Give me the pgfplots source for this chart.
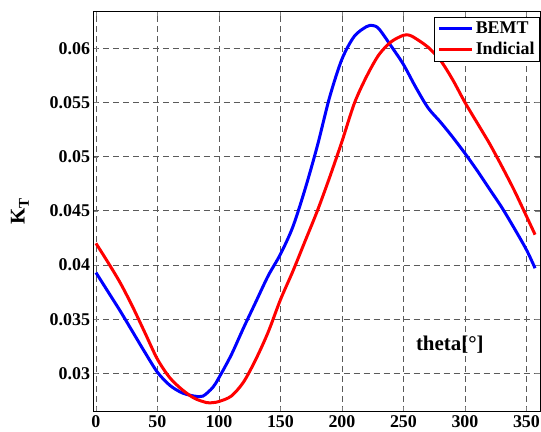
\documentclass[border=0pt]{standalone}
\usepackage{fontspec}
\setmainfont{Liberation Serif}
\usepackage{pgfplots}
\pgfplotsset{compat=1.18}

\definecolor{gridgray}{RGB}{90,90,90}

\begin{document}
\begin{tikzpicture}
\begin{axis}[
  scale only axis,
  width=446.5bp, height=400.7bp,
  xmin=-2, xmax=361,
  ymin=0.02646, ymax=0.06344,
  xtick={0,50,...,350},
  ytick={0.03,0.035,0.04,0.045,0.05,0.055,0.06},
  yticklabels={0.03,0.035,0.04,0.045,0.05,0.055,0.06},
  scaled y ticks=false,
  /pgf/number format/assume math mode=true,
  tick label style={font=\bfseries\fontsize{18}{20}\selectfont},
  tick align=inside,
  major tick length=5bp,
  xtick pos=both, ytick pos=both,
  xticklabel pos=bottom, yticklabel pos=left,
  grid=major,
  major grid style={gridgray, line width=0.9bp, dash pattern=on 6bp off 4bp},
  axis line style={black, line width=0.9bp},
  xlabel={theta[°]},
  xlabel style={font=\bfseries\fontsize{21}{24}\selectfont,
    at={(axis description cs:0.798,0.1665)}, anchor=center},
  ylabel={K\raisebox{-0.45ex}{\fontsize{15}{16}\selectfont T}},
  ylabel style={font=\bfseries\fontsize{21}{24}\selectfont,
    at={(axis description cs:-0.165,0.5)}, anchor=center},
  legend style={at={(axis description cs:1,0.986)}, anchor=north east,
    draw=black, line width=0.9bp, fill=white,
    font=\bfseries\fontsize{18}{20}\selectfont,
    inner xsep=3bp, inner ysep=3bp, row sep=3bp},
  legend cell align=left,
  legend image code/.code={\draw[#1] (0bp,0bp) -- (33bp,0bp);},
]
% BEMT thrust coefficient over one revolution
\addplot[blue, line width=3bp, smooth, tension=0.5] coordinates {
 (0,0.0393) (10,0.0375) (20,0.0357) (30,0.0338) (40,0.0319) (50,0.0301)
 (60,0.0289) (70,0.0282) (80,0.0279) (87,0.0279) (95,0.0287) (100,0.0296)
 (110,0.0317) (120,0.0342) (130,0.0366) (140,0.0390) (150,0.0410)
 (160,0.0435) (170,0.0470) (180,0.0510) (190,0.0555) (200,0.0590)
 (210,0.0611) (220,0.0620) (225,0.0621) (230,0.0618) (240,0.0602)
 (250,0.0585) (260,0.0564) (270,0.0545) (280,0.0532) (290,0.0518)
 (300,0.0503) (310,0.0487) (320,0.0470) (330,0.0453) (340,0.0434)
 (350,0.0414) (357,0.0397)
};
\addlegendentry{BEMT}
% Indicial (unsteady) thrust coefficient
\addplot[red, line width=3bp, smooth, tension=0.5] coordinates {
 (0,0.0420) (10,0.0402) (20,0.0383) (30,0.0361) (40,0.0337) (50,0.0313)
 (60,0.0296) (70,0.0285) (80,0.0277) (90,0.0273) (95,0.0273) (100,0.0274)
 (110,0.0279) (120,0.0292) (130,0.0313) (140,0.0338) (150,0.0368)
 (160,0.0394) (170,0.0422) (180,0.0450) (190,0.0481) (200,0.0514)
 (210,0.0549) (220,0.0574) (230,0.0594) (240,0.0606) (250,0.0612)
 (255,0.0612) (260,0.0609) (270,0.0601) (280,0.0589) (290,0.0571)
 (300,0.0550) (310,0.0531) (320,0.0512) (330,0.0491) (340,0.0469)
 (350,0.0445) (357,0.0428)
};
\addlegendentry{Indicial}
\end{axis}
\pgfresetboundingbox
\path[use as bounding box] (-93.5bp,-20.3bp) rectangle (447.5bp,411.7bp);
\end{tikzpicture}
\end{document}
